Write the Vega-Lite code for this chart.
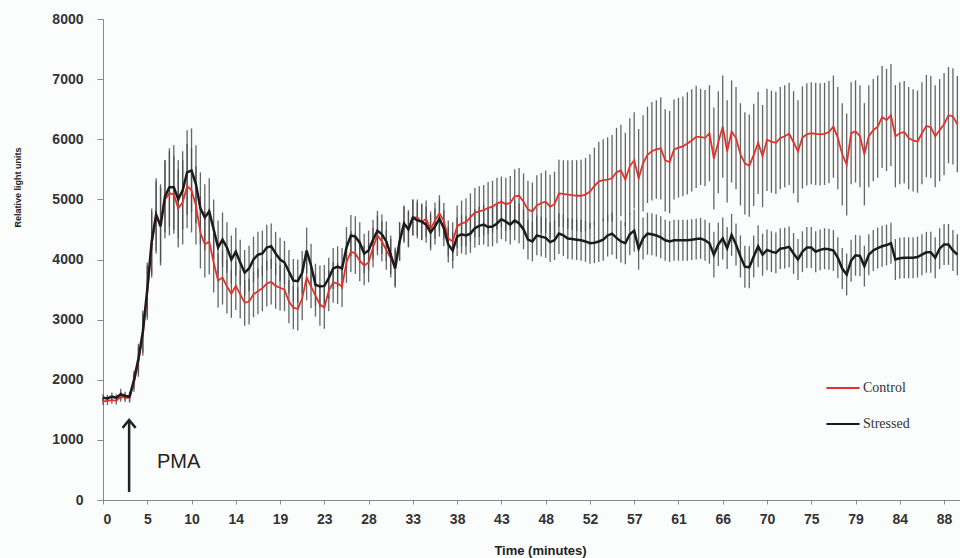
{
  "$schema": "https://vega.github.io/schema/vega-lite/v6.json",
  "width": 857,
  "height": 481,
  "autosize": "none",
  "padding": {"left": 103, "top": 19, "right": 0, "bottom": 58},
  "background": "#fbfdfd",
  "config": {"view": {"stroke": null}, "font": "Liberation Sans"},
  "data": {"values": [
{"n":0,"c":1640,"ce":60,"s":1700,"se":60},{"n":1,"c":1650,"ce":70,"s":1690,"se":60},{"n":2,"c":1660,"ce":60,"s":1720,"se":70},{"n":3,"c":1650,"ce":60,"s":1700,"se":60},{"n":4,"c":1720,"ce":80,"s":1760,"se":90},{"n":5,"c":1700,"ce":70,"s":1730,"se":70},{"n":6,"c":1700,"ce":80,"s":1720,"se":80},{"n":7,"c":1950,"ce":150,"s":2000,"se":150},{"n":8,"c":2300,"ce":250,"s":2350,"se":250},{"n":9,"c":2750,"ce":350,"s":2800,"se":350},
{"n":10,"c":3450,"ce":450,"s":3500,"se":450},{"n":11,"c":4250,"ce":550,"s":4300,"se":550},{"n":12,"c":4700,"ce":600,"s":4750,"se":600},{"n":13,"c":4600,"ce":650,"s":4550,"se":650},{"n":14,"c":5000,"ce":650,"s":5050,"se":600},{"n":15,"c":5100,"ce":700,"s":5200,"se":650},{"n":16,"c":5080,"ce":650,"s":5200,"se":700},{"n":17,"c":4850,"ce":650,"s":5000,"se":650},{"n":18,"c":4950,"ce":700,"s":5150,"se":650},{"n":19,"c":5220,"ce":700,"s":5450,"se":700},
{"n":20,"c":5150,"ce":700,"s":5480,"se":700},{"n":21,"c":4900,"ce":650,"s":5250,"se":650},{"n":22,"c":4450,"ce":600,"s":4850,"se":600},{"n":23,"c":4250,"ce":550,"s":4700,"se":550},{"n":24,"c":4300,"ce":550,"s":4800,"se":550},{"n":25,"c":3950,"ce":500,"s":4500,"se":500},{"n":26,"c":3650,"ce":450,"s":4200,"se":450},{"n":27,"c":3700,"ce":450,"s":4330,"se":450},{"n":28,"c":3550,"ce":450,"s":4200,"se":420},{"n":29,"c":3430,"ce":400,"s":4000,"se":400},
{"n":30,"c":3560,"ce":400,"s":4130,"se":400},{"n":31,"c":3420,"ce":400,"s":3950,"se":380},{"n":32,"c":3280,"ce":380,"s":3780,"se":380},{"n":33,"c":3300,"ce":380,"s":3850,"se":380},{"n":34,"c":3420,"ce":380,"s":4000,"se":380},{"n":35,"c":3470,"ce":380,"s":4080,"se":380},{"n":36,"c":3520,"ce":380,"s":4100,"se":380},{"n":37,"c":3600,"ce":380,"s":4200,"se":380},{"n":38,"c":3630,"ce":380,"s":4220,"se":380},{"n":39,"c":3560,"ce":380,"s":4100,"se":360},
{"n":40,"c":3530,"ce":380,"s":4000,"se":360},{"n":41,"c":3500,"ce":360,"s":3950,"se":360},{"n":42,"c":3300,"ce":360,"s":3800,"se":360},{"n":43,"c":3200,"ce":360,"s":3650,"se":360},{"n":44,"c":3180,"ce":360,"s":3640,"se":360},{"n":45,"c":3350,"ce":360,"s":3780,"se":360},{"n":46,"c":3700,"ce":380,"s":4150,"se":380},{"n":47,"c":3550,"ce":360,"s":3900,"se":360},{"n":48,"c":3400,"ce":350,"s":3580,"se":350},{"n":49,"c":3250,"ce":350,"s":3550,"se":350},
{"n":50,"c":3200,"ce":350,"s":3560,"se":350},{"n":51,"c":3480,"ce":340,"s":3690,"se":340},{"n":52,"c":3620,"ce":340,"s":3850,"se":340},{"n":53,"c":3600,"ce":340,"s":3880,"se":340},{"n":54,"c":3550,"ce":340,"s":3850,"se":340},{"n":55,"c":3950,"ce":340,"s":4200,"se":340},{"n":56,"c":4130,"ce":340,"s":4400,"se":340},{"n":57,"c":4100,"ce":340,"s":4380,"se":340},{"n":58,"c":3980,"ce":340,"s":4280,"se":340},{"n":59,"c":3900,"ce":330,"s":4100,"se":330},
{"n":60,"c":3950,"ce":330,"s":4150,"se":330},{"n":61,"c":4200,"ce":330,"s":4330,"se":330},{"n":62,"c":4400,"ce":330,"s":4480,"se":330},{"n":63,"c":4300,"ce":330,"s":4420,"se":330},{"n":64,"c":4160,"ce":330,"s":4300,"se":330},{"n":65,"c":4020,"ce":320,"s":4080,"se":320},{"n":66,"c":3880,"ce":320,"s":3850,"se":320},{"n":67,"c":4300,"ce":320,"s":4300,"se":320},{"n":68,"c":4580,"ce":300,"s":4600,"se":300},{"n":69,"c":4520,"ce":300,"s":4500,"se":300},
{"n":70,"c":4700,"ce":300,"s":4700,"se":300},{"n":71,"c":4700,"ce":300,"s":4650,"se":300},{"n":72,"c":4620,"ce":300,"s":4630,"se":300},{"n":73,"c":4680,"ce":300,"s":4580,"se":300},{"n":74,"c":4500,"ce":300,"s":4450,"se":300},{"n":75,"c":4650,"ce":300,"s":4550,"se":300},{"n":76,"c":4770,"ce":300,"s":4680,"se":300},{"n":77,"c":4640,"ce":300,"s":4520,"se":300},{"n":78,"c":4350,"ce":300,"s":4250,"se":300},{"n":79,"c":4300,"ce":320,"s":4150,"se":300},
{"n":80,"c":4550,"ce":350,"s":4380,"se":320},{"n":81,"c":4600,"ce":380,"s":4420,"se":320},{"n":82,"c":4620,"ce":400,"s":4400,"se":320},{"n":83,"c":4700,"ce":400,"s":4430,"se":320},{"n":84,"c":4780,"ce":410,"s":4520,"se":320},{"n":85,"c":4800,"ce":420,"s":4560,"se":320},{"n":86,"c":4820,"ce":420,"s":4580,"se":330},{"n":87,"c":4860,"ce":430,"s":4540,"se":330},{"n":88,"c":4880,"ce":430,"s":4550,"se":330},{"n":89,"c":4930,"ce":430,"s":4600,"se":330},
{"n":90,"c":4960,"ce":420,"s":4670,"se":330},{"n":91,"c":4920,"ce":440,"s":4630,"se":330},{"n":92,"c":4940,"ce":450,"s":4580,"se":330},{"n":93,"c":5050,"ce":450,"s":4650,"se":330},{"n":94,"c":5060,"ce":460,"s":4600,"se":330},{"n":95,"c":4960,"ce":470,"s":4500,"se":330},{"n":96,"c":4830,"ce":480,"s":4330,"se":330},{"n":97,"c":4800,"ce":480,"s":4300,"se":330},{"n":98,"c":4900,"ce":500,"s":4400,"se":330},{"n":99,"c":4940,"ce":500,"s":4380,"se":330},
{"n":100,"c":4960,"ce":520,"s":4360,"se":330},{"n":101,"c":4880,"ce":530,"s":4290,"se":330},{"n":102,"c":4920,"ce":540,"s":4320,"se":330},{"n":103,"c":5100,"ce":560,"s":4430,"se":340},{"n":104,"c":5090,"ce":560,"s":4400,"se":340},{"n":105,"c":5080,"ce":570,"s":4350,"se":340},{"n":106,"c":5070,"ce":580,"s":4340,"se":340},{"n":107,"c":5060,"ce":590,"s":4330,"se":340},{"n":108,"c":5060,"ce":600,"s":4320,"se":340},{"n":109,"c":5080,"ce":610,"s":4300,"se":340},
{"n":110,"c":5130,"ce":620,"s":4270,"se":340},{"n":111,"c":5220,"ce":640,"s":4280,"se":340},{"n":112,"c":5300,"ce":660,"s":4300,"se":340},{"n":113,"c":5320,"ce":680,"s":4330,"se":350},{"n":114,"c":5330,"ce":700,"s":4400,"se":350},{"n":115,"c":5350,"ce":720,"s":4430,"se":350},{"n":116,"c":5450,"ce":740,"s":4360,"se":350},{"n":117,"c":5480,"ce":760,"s":4300,"se":350},{"n":118,"c":5330,"ce":780,"s":4270,"se":350},{"n":119,"c":5550,"ce":800,"s":4420,"se":350},
{"n":120,"c":5650,"ce":800,"s":4480,"se":350},{"n":121,"c":5350,"ce":820,"s":4180,"se":350},{"n":122,"c":5600,"ce":800,"s":4350,"se":350},{"n":123,"c":5740,"ce":800,"s":4430,"se":350},{"n":124,"c":5800,"ce":820,"s":4420,"se":350},{"n":125,"c":5830,"ce":820,"s":4400,"se":350},{"n":126,"c":5850,"ce":850,"s":4370,"se":350},{"n":127,"c":5650,"ce":850,"s":4320,"se":340},{"n":128,"c":5620,"ce":850,"s":4300,"se":340},{"n":129,"c":5830,"ce":830,"s":4320,"se":340},
{"n":130,"c":5860,"ce":830,"s":4320,"se":340},{"n":131,"c":5880,"ce":830,"s":4320,"se":340},{"n":132,"c":5930,"ce":850,"s":4320,"se":340},{"n":133,"c":5980,"ce":850,"s":4330,"se":340},{"n":134,"c":6040,"ce":850,"s":4340,"se":340},{"n":135,"c":6040,"ce":800,"s":4350,"se":340},{"n":136,"c":6020,"ce":800,"s":4320,"se":340},{"n":137,"c":6100,"ce":800,"s":4270,"se":340},{"n":138,"c":5680,"ce":850,"s":4080,"se":380},{"n":139,"c":5950,"ce":850,"s":4250,"se":360},
{"n":140,"c":6210,"ce":850,"s":4350,"se":350},{"n":141,"c":5800,"ce":850,"s":4190,"se":350},{"n":142,"c":6130,"ce":850,"s":4410,"se":350},{"n":143,"c":6020,"ce":850,"s":4250,"se":350},{"n":144,"c":5750,"ce":850,"s":4050,"se":350},{"n":145,"c":5600,"ce":850,"s":3880,"se":350},{"n":146,"c":5560,"ce":850,"s":3870,"se":350},{"n":147,"c":5740,"ce":850,"s":4050,"se":350},{"n":148,"c":5940,"ce":850,"s":4220,"se":350},{"n":149,"c":5720,"ce":850,"s":4080,"se":350},
{"n":150,"c":5990,"ce":850,"s":4160,"se":340},{"n":151,"c":5960,"ce":850,"s":4130,"se":340},{"n":152,"c":5940,"ce":850,"s":4110,"se":340},{"n":153,"c":6020,"ce":850,"s":4180,"se":340},{"n":154,"c":6050,"ce":850,"s":4190,"se":340},{"n":155,"c":6090,"ce":850,"s":4210,"se":340},{"n":156,"c":5950,"ce":850,"s":4100,"se":340},{"n":157,"c":5800,"ce":850,"s":4000,"se":340},{"n":158,"c":6030,"ce":850,"s":4130,"se":340},{"n":159,"c":6080,"ce":850,"s":4200,"se":340},
{"n":160,"c":6100,"ce":850,"s":4200,"se":340},{"n":161,"c":6090,"ce":850,"s":4130,"se":340},{"n":162,"c":6080,"ce":850,"s":4160,"se":340},{"n":163,"c":6090,"ce":850,"s":4180,"se":340},{"n":164,"c":6120,"ce":850,"s":4170,"se":340},{"n":165,"c":6210,"ce":850,"s":4150,"se":340},{"n":166,"c":6020,"ce":850,"s":4030,"se":340},{"n":167,"c":5750,"ce":850,"s":3850,"se":340},{"n":168,"c":5580,"ce":850,"s":3750,"se":350},{"n":169,"c":6100,"ce":850,"s":3980,"se":350},
{"n":170,"c":6130,"ce":850,"s":4070,"se":340},{"n":171,"c":6050,"ce":850,"s":4060,"se":340},{"n":172,"c":5750,"ce":850,"s":3890,"se":340},{"n":173,"c":6050,"ce":850,"s":4080,"se":340},{"n":174,"c":6150,"ce":850,"s":4150,"se":340},{"n":175,"c":6210,"ce":850,"s":4190,"se":340},{"n":176,"c":6370,"ce":850,"s":4220,"se":340},{"n":177,"c":6320,"ce":850,"s":4240,"se":340},{"n":178,"c":6400,"ce":850,"s":4270,"se":340},{"n":179,"c":6050,"ce":850,"s":4000,"se":340},
{"n":180,"c":6100,"ce":850,"s":4020,"se":340},{"n":181,"c":6120,"ce":850,"s":4030,"se":340},{"n":182,"c":6020,"ce":850,"s":4030,"se":340},{"n":183,"c":5980,"ce":850,"s":4030,"se":340},{"n":184,"c":5960,"ce":850,"s":4040,"se":340},{"n":185,"c":6100,"ce":850,"s":4080,"se":340},{"n":186,"c":6220,"ce":850,"s":4120,"se":340},{"n":187,"c":6200,"ce":850,"s":4120,"se":340},{"n":188,"c":6050,"ce":850,"s":4030,"se":340},{"n":189,"c":6150,"ce":850,"s":4180,"se":340},
{"n":190,"c":6250,"ce":850,"s":4250,"se":340},{"n":191,"c":6400,"ce":800,"s":4250,"se":340},{"n":192,"c":6380,"ce":800,"s":4150,"se":340},{"n":193,"c":6250,"ce":800,"s":4080,"se":340}
  ]},
  "encoding": {
    "x": {"field": "n", "type": "quantitative",
      "scale": {"domain": [0, 193.6], "nice": false, "zero": false},
      "axis": {"title": "Time (minutes)", "values": [0,10,20,30,40,50,60,70,80,90,100,110,120,130,140,150,160,170,180,190],
        "labelExpr": "['0','5','10','14','19','23','28','33','38','43','48','52','57','61','66','70','75','79','84','88'][round(datum.value/10)]",
        "grid": false, "domainColor": "#888", "tickColor": "#888", "tickSize": 4, "labelPadding": 8,
        "labelFont": "Liberation Sans", "labelFontSize": 14, "labelFontWeight": "bold", "labelColor": "#333",
        "titleFont": "Liberation Sans", "titleFontSize": 13, "titleFontWeight": "bold", "titleColor": "#222",
        "titleX": 437, "titleY": 50, "titleBaseline": "middle"}},
    "y": {"type": "quantitative",
      "scale": {"domain": [0, 8000], "nice": false},
      "axis": {"title": "Relative light units", "values": [0,1000,2000,3000,4000,5000,6000,7000,8000], "format": "d",
        "grid": false, "domainColor": "#888", "tickColor": "#888", "tickSize": 6, "labelPadding": 14,
        "labelFont": "Liberation Sans", "labelFontSize": 14, "labelFontWeight": "bold", "labelColor": "#333",
        "titleFont": "Liberation Sans", "titleFontSize": 9, "titleFontWeight": "bold", "titleColor": "#222",
        "titleX": -86, "titleY": 168, "titleBaseline": "middle"}}
  },
  "layer": [
    {"mark": {"type": "errorbar", "color": "#4a4a4a", "thickness": 1.3, "opacity": 0.85},
     "encoding": {"y": {"field": "c", "type": "quantitative"}, "yError": {"field": "ce"}}},
    {"mark": {"type": "errorbar", "color": "#4a4a4a", "thickness": 1.3, "opacity": 0.85},
     "encoding": {"y": {"field": "s", "type": "quantitative"}, "yError": {"field": "se"}}},
    {"mark": {"type": "line", "strokeWidth": 1.8},
     "encoding": {"y": {"field": "c", "type": "quantitative"},
       "color": {"datum": "Control", "type": "nominal",
         "scale": {"domain": ["Control", "Stressed"], "range": ["#e2332b", "#1c1c1c"]},
         "legend": {"title": null, "orient": "none", "legendX": 722, "legendY": 351,
           "symbolType": "stroke", "symbolSize": 1100, "symbolStrokeWidth": 2, "rowPadding": 11,
           "labelFont": "Liberation Serif", "labelFontSize": 14, "labelColor": "#333", "labelOffset": 2}}}},
    {"mark": {"type": "line", "strokeWidth": 2.5},
     "encoding": {"y": {"field": "s", "type": "quantitative"},
       "color": {"datum": "Stressed", "type": "nominal"}}},
    {"data": {"values": [{"n": 5.9, "lo": 133, "hi": 1331}]},
     "mark": {"type": "rule", "color": "#222", "strokeWidth": 2.5},
     "encoding": {"y": {"field": "lo", "type": "quantitative"}, "y2": {"field": "hi"}}},
    {"data": {"values": [{"n": 5.9, "v": 1265}]},
     "mark": {"type": "point", "shape": "M-1,0.6L0,-0.6L1,0.6", "size": 169, "filled": false, "color": "#222", "strokeWidth": 2.5, "opacity": 1},
     "encoding": {"y": {"field": "v", "type": "quantitative"}}},
    {"data": {"values": [{"n": 12.2, "v": 630, "label": "PMA"}]},
     "mark": {"type": "text", "align": "left", "baseline": "middle", "font": "Liberation Sans", "fontSize": 20, "color": "#222"},
     "encoding": {"y": {"field": "v", "type": "quantitative"}, "text": {"field": "label"}}}
  ]
}
